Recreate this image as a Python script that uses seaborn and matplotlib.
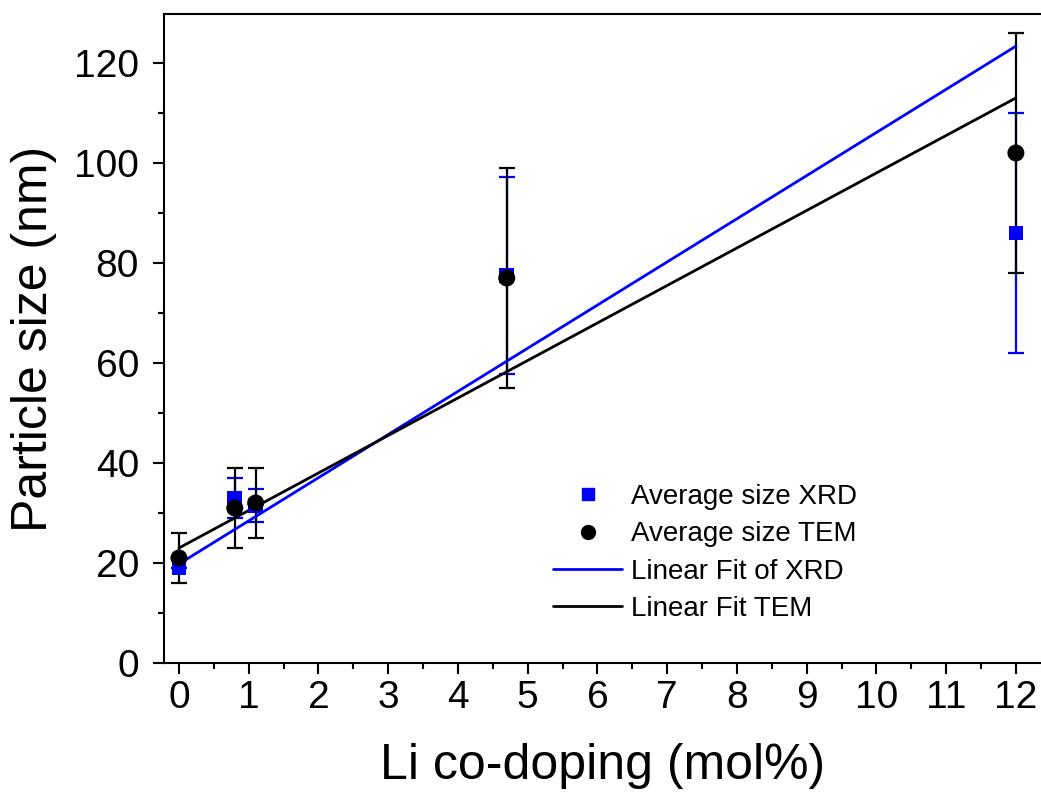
import numpy as np
import pandas as pd
import matplotlib
matplotlib.use("Agg")
import matplotlib.pyplot as plt
from matplotlib.ticker import MultipleLocator
from matplotlib.lines import Line2D
import seaborn as sns

# Datos
li_mol = [0.0, 0.8, 1.1, 4.7, 12.0]
xrd_size = [19.0, 33.0, 31.5, 77.5, 86.0]
xrd_err = [0.0, 4.0, 3.3, 19.7, 24.0]
tem_size = [21.0, 31.0, 32.0, 77.0, 102.0]
tem_err = [5.0, 8.0, 7.0, 22.0, 24.0]

fit_xrd = (19.8, 8.63)
fit_tem = (23.0, 7.5)
fit_range = [0.0, 12.0]

sns.set_style("ticks")
plt.rcParams["font.family"] = ["Liberation Sans", "DejaVu Sans"]
plt.rcParams["text.color"] = "black"
plt.rcParams["axes.labelcolor"] = "black"
plt.rcParams["xtick.color"] = "black"
plt.rcParams["ytick.color"] = "black"

datos = pd.DataFrame({"x": li_mol, "xrd": xrd_size, "xrd_err": xrd_err,
                      "tem": tem_size, "tem_err": tem_err})
x_fit = np.array(fit_range)
rectas = pd.DataFrame({
    "x": np.concatenate([x_fit, x_fit]),
    "y": np.concatenate([fit_xrd[0] + fit_xrd[1] * x_fit,
                         fit_tem[0] + fit_tem[1] * x_fit]),
    "serie": ["Linear Fit of XRD"] * 2 + ["Linear Fit TEM"] * 2,
})

fig = plt.figure(figsize=(10.41, 7.94), dpi=100)
ax = fig.add_axes([0.1575, 0.165, 0.8425, 0.8174])

# Barras de error
ax.errorbar(datos["x"], datos["xrd"], yerr=datos["xrd_err"], fmt="none",
            ecolor="#0000ff", elinewidth=1.6, capsize=6, capthick=1.6, zorder=2)
ax.errorbar(datos["x"], datos["tem"], yerr=datos["tem_err"], fmt="none",
            ecolor="black", elinewidth=1.6, capsize=6, capthick=1.6, zorder=2)

# Rectas de ajuste
sns.lineplot(data=rectas, x="x", y="y", hue="serie",
             palette={"Linear Fit of XRD": "#0000ff", "Linear Fit TEM": "black"},
             linewidth=2, legend=False, ax=ax, zorder=3)

# Puntos
sns.scatterplot(data=datos, x="x", y="xrd", marker="s", s=110, color="#0000ff",
                edgecolor="none", ax=ax, zorder=4)
sns.scatterplot(data=datos, x="x", y="tem", marker="o", s=150, color="black",
                edgecolor="none", ax=ax, zorder=5)

ax.set_xlim(-0.215, 12.36)
ax.set_ylim(0, 129.8)
ax.xaxis.set_major_locator(MultipleLocator(1))
ax.xaxis.set_minor_locator(MultipleLocator(0.5))
ax.yaxis.set_major_locator(MultipleLocator(20))
ax.yaxis.set_minor_locator(MultipleLocator(10))
ax.tick_params(axis="both", which="major", direction="out", length=8, width=1.5,
               labelsize=28, color="black")
ax.tick_params(axis="x", which="major", pad=4)
ax.tick_params(axis="y", which="major", pad=10)
ax.tick_params(axis="both", which="minor", direction="out", length=4, width=1.5)

for lado in ["left", "bottom", "top"]:
    ax.spines[lado].set_linewidth(1.5)
    ax.spines[lado].set_color("black")
ax.spines["right"].set_visible(False)

ax.set_xlabel("Li co-doping (mol%)", fontsize=36, labelpad=20)
ax.set_ylabel("Particle size (nm)", fontsize=36, labelpad=12)

handles = [
    Line2D([], [], linestyle="none", marker="s", markersize=9, color="#0000ff"),
    Line2D([], [], linestyle="none", marker="o", markersize=10, color="black"),
    Line2D([], [], color="#0000ff", linewidth=2),
    Line2D([], [], color="black", linewidth=2),
]
etiquetas = ["Average size XRD", "Average size TEM", "Linear Fit of XRD", "Linear Fit TEM"]
ax.legend(handles, etiquetas, loc="upper left", bbox_to_anchor=(0.4435, 0.276),
          frameon=False, fontsize=20, handlelength=2.5, handletextpad=0.3,
          labelspacing=0.41, borderpad=0, borderaxespad=0)

plt.savefig("out.png", dpi=100)
plt.close()
